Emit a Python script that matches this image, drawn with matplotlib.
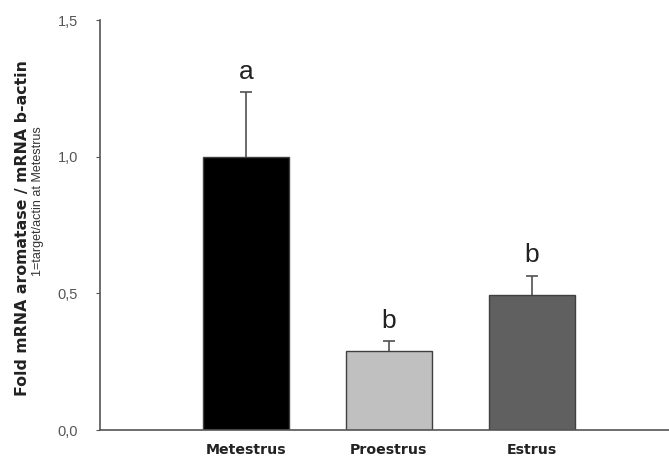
import numpy as np
import matplotlib
matplotlib.use("Agg")
import matplotlib.pyplot as plt

plt.rcParams["font.family"] = ["Liberation Sans", "DejaVu Sans"]

# %% Data
stages = ["Metestrus", "Proestrus", "Estrus"]
fold = [1.0, 0.29, 0.495]
sem = [0.235, 0.035, 0.07]
letters = ["a", "b", "b"]
bar_colors = ["#000000", "#c0c0c0", "#606060"]
yticks = [0.0, 0.5, 1.0, 1.5]
ytick_labels = ["0,0", "0,5", "1,0", "1,5"]

# %% Figure
fig = plt.figure(figsize=(6.69, 4.61), dpi=100)
ax = fig.add_axes([0.1495, 0.0672, 0.8505, 0.8894])

x = np.arange(len(stages))
ax.bar(x, fold, width=0.6, color=bar_colors, edgecolor="#404040", linewidth=1.0, zorder=2)
_, caps, _ = ax.errorbar(x, fold, yerr=[np.zeros(len(sem)), sem], fmt="none",
                         ecolor="#505050", elinewidth=1.2, capsize=4, capthick=1.2,
                         zorder=1)
caps[0].set_visible(False)  # hide lower cap at bar top

for xi, v, e, lt in zip(x, fold, sem, letters):
    ax.text(xi, v + e + 0.03, lt, ha="center", va="bottom", fontsize=19, color="#222222")

ax.set_xlim(-1.02, 2.96)
ax.set_ylim(0, 1.5)
ax.set_yticks(yticks)
ax.set_yticklabels(ytick_labels, color="#555555", fontsize=10.5)
ax.set_xticks(x)
ax.set_xticklabels(stages, fontweight="bold", fontsize=10.2, color="#222222",
                   family="DejaVu Sans")
ax.tick_params(axis="x", length=0, pad=9)
ax.tick_params(axis="y", length=3, color="#555555", direction="out", pad=13)

for side in ["top", "right"]:
    ax.spines[side].set_visible(False)
for side in ["left", "bottom"]:
    ax.spines[side].set_color("#555555")
    ax.spines[side].set_linewidth(1.2)

fig.text(0.033, 0.505, "Fold mRNA aromatase / mRNA b-actin", rotation=90, ha="center",
         va="center", fontsize=11.3, fontweight="bold", color="#222222",
         family="DejaVu Sans")
fig.text(0.057, 0.564, "1=target/actin at Metestrus", rotation=90, ha="center",
         va="center", fontsize=9, color="#333333")

fig.savefig("out.png", dpi=100)
